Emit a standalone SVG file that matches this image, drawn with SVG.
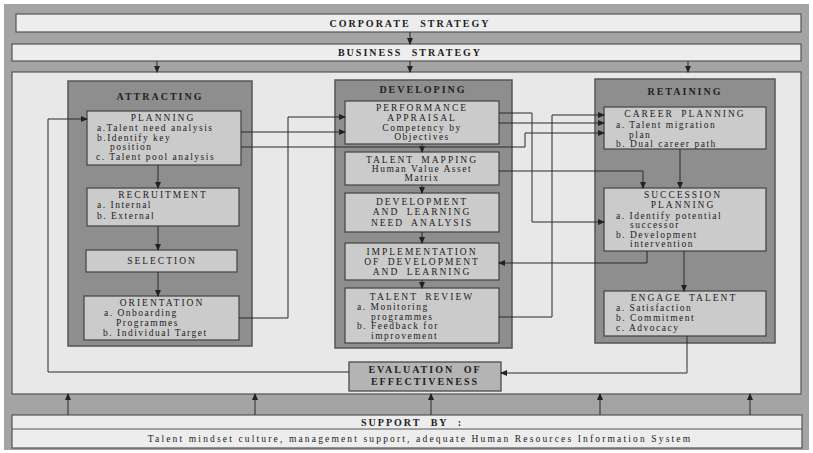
<svg xmlns="http://www.w3.org/2000/svg" width="813" height="453" viewBox="0 0 813 453">
<defs>
<marker id="ah" markerUnits="userSpaceOnUse" markerWidth="7" markerHeight="6" refX="6" refY="3" orient="auto">
<path d="M0,0 L7,3 L0,6 Z" fill="#222"/>
</marker>
<style>
.bg{fill:#a4a4a4}
.strat{fill:#ededed;stroke:#555;stroke-width:1.2}
.panel{fill:#e8e8e8;stroke:#555;stroke-width:1.2}
.col{fill:#8e8e8e;stroke:#555;stroke-width:1.5}
.box{fill:#cbcbcb;stroke:#4a4a4a;stroke-width:1.3}
.eval{fill:#b4b4b4;stroke:#4a4a4a;stroke-width:1.3}
text{font-family:"Liberation Serif","Times New Roman",serif;fill:#222}
.t{font-size:10px;font-weight:bold;letter-spacing:2px;word-spacing:5px;text-anchor:middle}
.h{font-size:9.5px;letter-spacing:2px;word-spacing:3px;text-anchor:middle}
.b{font-size:9.5px;letter-spacing:1.5px}
.c{font-size:9.5px;letter-spacing:1.5px;text-anchor:middle}
.s{font-size:9.5px;letter-spacing:2.15px;text-anchor:middle}
.conn path,.conn line{fill:none;stroke:#2a2a2a;stroke-width:1}
</style>
</defs>
<rect width="813" height="453" fill="#fff"/>
<rect class="bg" x="4" y="4" width="805" height="446"/>

<g id="corporate">
<rect class="strat" x="16" y="14" width="785" height="18"/>
<text class="t" x="410" y="27">CORPORATE  STRATEGY</text>
</g>
<g id="business">
<rect class="strat" x="12" y="44" width="789" height="17"/>
<text class="t" x="410" y="56">BUSINESS  STRATEGY</text>
</g>
<rect class="panel" x="12" y="72" width="789" height="322"/>

<g id="attracting">
<rect class="col" x="68" y="81" width="184" height="265"/>
<text class="t" x="160" y="100">ATTRACTING</text>
</g>
<g id="developing">
<rect class="col" x="335" y="80" width="177" height="268"/>
<text class="t" x="423" y="93">DEVELOPING</text>
</g>
<g id="retaining">
<rect class="col" x="595" y="79" width="180" height="264"/>
<text class="t" x="685" y="95">RETAINING</text>
</g>

<g id="planning">
<rect class="box" x="87" y="111" width="154" height="54"/>
<text class="h" x="163" y="121">PLANNING</text>
<text class="b" x="97" y="131">a.Talent need analysis</text>
<text class="b" x="97" y="141">b.Identify key</text>
<text class="b" x="110" y="150">position</text>
<text class="b" x="96" y="160">c. Talent pool analysis</text>
</g>
<g id="recruitment">
<rect class="box" x="87" y="188" width="152" height="38"/>
<text class="h" x="163" y="198">RECRUITMENT</text>
<text class="b" x="97" y="208">a. Internal</text>
<text class="b" x="97" y="219">b. External</text>
</g>
<g id="selection">
<rect class="box" x="86" y="250" width="151" height="22"/>
<text class="h" x="162" y="264">SELECTION</text>
</g>
<g id="orientation">
<rect class="box" x="84" y="296" width="155" height="44"/>
<text class="h" x="162" y="306">ORIENTATION</text>
<text class="b" x="104" y="316">a. Onboarding</text>
<text class="b" x="116" y="326">Programmes</text>
<text class="b" x="103" y="336">b. Individual Target</text>
</g>

<g id="performance-appraisal">
<rect class="box" x="345" y="101" width="154" height="43"/>
<text class="h" x="422" y="111">PERFORMANCE</text>
<text class="h" x="422" y="121">APPRAISAL</text>
<text class="c" x="422" y="131">Competency by</text>
<text class="c" x="422" y="140">Objectives</text>
</g>
<g id="talent-mapping">
<rect class="box" x="345" y="152" width="154" height="33"/>
<text class="h" x="422" y="163">TALENT MAPPING</text>
<text class="c" x="422" y="172">Human Value Asset</text>
<text class="c" x="422" y="181">Matrix</text>
</g>
<g id="dlna">
<rect class="box" x="345" y="193" width="154" height="39"/>
<text class="h" x="422" y="205">DEVELOPMENT</text>
<text class="h" x="422" y="215">AND LEARNING</text>
<text class="h" x="422" y="226">NEED ANALYSIS</text>
</g>
<g id="implementation">
<rect class="box" x="345" y="243" width="154" height="37"/>
<text class="h" x="422" y="255">IMPLEMENTATION</text>
<text class="h" x="422" y="265">OF DEVELOPMENT</text>
<text class="h" x="422" y="275">AND LEARNING</text>
</g>
<g id="talent-review">
<rect class="box" x="345" y="288" width="154" height="55"/>
<text class="h" x="422" y="300">TALENT REVIEW</text>
<text class="b" x="357" y="310">a. Monitoring</text>
<text class="b" x="371" y="320">programmes</text>
<text class="b" x="357" y="329">b. Feedback for</text>
<text class="b" x="371" y="339">improvement</text>
</g>

<g id="career-planning">
<rect class="box" x="604" y="107" width="162" height="42"/>
<text class="h" x="685" y="117">CAREER PLANNING</text>
<text class="b" x="616" y="128">a. Talent migration</text>
<text class="b" x="629" y="138">plan</text>
<text class="b" x="616" y="147">b. Dual career path</text>
</g>
<g id="succession-planning">
<rect class="box" x="604" y="188" width="162" height="63"/>
<text class="h" x="683" y="198">SUCCESSION</text>
<text class="h" x="683" y="208">PLANNING</text>
<text class="b" x="616" y="219">a. Identify potential</text>
<text class="b" x="630" y="228">successor</text>
<text class="b" x="616" y="238">b. Development</text>
<text class="b" x="630" y="247">intervention</text>
</g>
<g id="engage-talent">
<rect class="box" x="604" y="291" width="162" height="45"/>
<text class="h" x="684" y="301">ENGAGE TALENT</text>
<text class="b" x="616" y="311">a. Satisfaction</text>
<text class="b" x="616" y="321">b. Commitment</text>
<text class="b" x="616" y="331">c. Advocacy</text>
</g>

<g id="evaluation">
<rect class="eval" x="349" y="362" width="152" height="29"/>
<text class="t" x="425" y="373">EVALUATION  OF</text>
<text class="t" x="425" y="385">EFFECTIVENESS</text>
</g>

<g id="support">
<rect class="strat" x="12" y="415" width="790" height="33"/>
<line x1="12" y1="429" x2="802" y2="429" stroke="#555" stroke-width="1"/>
<text class="t" x="412" y="426">SUPPORT  BY :</text>
<text class="s" x="420" y="442">Talent mindset culture, management support, adequate Human Resources Information System</text>
</g>

<g class="conn" id="connectors">
<line x1="410" y1="32" x2="410" y2="44" marker-end="url(#ah)"/>
<line x1="157" y1="61" x2="157" y2="72" marker-end="url(#ah)"/>
<line x1="410" y1="61" x2="410" y2="72" marker-end="url(#ah)"/>
<line x1="688" y1="61" x2="688" y2="72" marker-end="url(#ah)"/>

<line x1="158" y1="165" x2="158" y2="188" marker-end="url(#ah)"/>
<line x1="158" y1="226" x2="158" y2="250" marker-end="url(#ah)"/>
<line x1="158" y1="272" x2="158" y2="296" marker-end="url(#ah)"/>

<line x1="422" y1="144" x2="422" y2="152" marker-end="url(#ah)"/>
<line x1="422" y1="185" x2="422" y2="193" marker-end="url(#ah)"/>
<line x1="422" y1="232" x2="422" y2="243" marker-end="url(#ah)"/>
<line x1="422" y1="280" x2="422" y2="288" marker-end="url(#ah)"/>

<line x1="680" y1="149" x2="680" y2="188" marker-end="url(#ah)"/>
<line x1="684" y1="251" x2="684" y2="291" marker-end="url(#ah)"/>

<path d="M499,171 H643 V188" marker-end="url(#ah)"/>
<path d="M241,132 H345" marker-end="url(#ah)"/>
<path d="M239,318 H288 V117 H345" marker-end="url(#ah)"/>
<path d="M241,147 H525 V133 H604" marker-end="url(#ah)"/>
<path d="M499,123 H604" marker-end="url(#ah)"/>
<path d="M499,113 H532 V222 H604" marker-end="url(#ah)"/>
<path d="M499,317 H552 V115 H604" marker-end="url(#ah)"/>
<path d="M647,251 V263 H499" marker-end="url(#ah)"/>
<path d="M687,336 V373 H501" marker-end="url(#ah)"/>
<path d="M349,372 H48 V119 H87" marker-end="url(#ah)"/>

<line x1="68" y1="415" x2="68" y2="394" marker-end="url(#ah)"/>
<line x1="255" y1="415" x2="255" y2="394" marker-end="url(#ah)"/>
<line x1="431" y1="415" x2="431" y2="394" marker-end="url(#ah)"/>
<line x1="600" y1="415" x2="600" y2="394" marker-end="url(#ah)"/>
<line x1="750" y1="415" x2="750" y2="394" marker-end="url(#ah)"/>
</g>
</svg>
